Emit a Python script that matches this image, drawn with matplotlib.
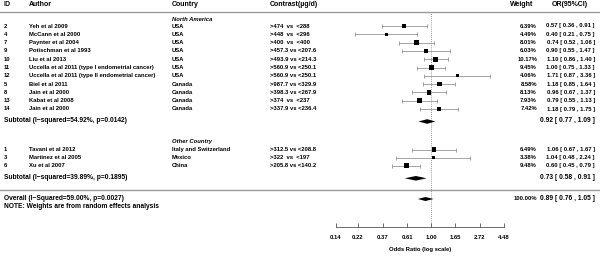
import numpy as np
import matplotlib
matplotlib.use("Agg")
import matplotlib.pyplot as plt

plt.rcParams['font.family'] = ['Liberation Sans', 'DejaVu Sans']
plt.rcParams['font.weight'] = 'bold'

# ---- data ----
na_id = ["2", "4", "7", "9", "10", "11", "12", "5", "8", "13", "14"]
na_author = ["Yeh et al 2009", "McCann et al 2000", "Paynter et al 2004",
             "Potischman et al 1993", "Liu et al 2013",
             "Uccella et al 2011 (type I endometrial cancer)",
             "Uccella et al 2011 (type II endometrial cancer)",
             "Biel et al 2011", "Jain et al 2000", "Kabat et al 2008", "Jain et al 2000"]
na_country = ["USA"] * 7 + ["Canada"] * 4
na_contrast = [">474  vs  <288", ">448  vs  <296", ">400  vs  <400", ">457.3 vs <207.6",
               ">493.9 vs <214.3", ">560.9 vs <250.1", ">560.9 vs <250.1",
               ">987.7 vs <329.9", ">398.3 vs <267.9", ">374  vs  <237", ">337.9 vs <236.4"]
na_weight = [6.39, 4.49, 8.01, 6.03, 10.17, 9.45, 4.06, 8.58, 8.13, 7.93, 7.42]
na_or = [0.57, 0.40, 0.74, 0.90, 1.10, 1.00, 1.71, 1.18, 0.96, 0.79, 1.18]
na_lo = [0.36, 0.21, 0.52, 0.55, 0.86, 0.75, 0.87, 0.85, 0.67, 0.55, 0.79]
na_hi = [0.91, 0.75, 1.06, 1.47, 1.40, 1.33, 3.36, 1.64, 1.37, 1.13, 1.75]
na_sub = (0.92, 0.77, 1.09)
na_sub_label = "Subtotal (I\u2212squared=54.92%, p=0.0142)"

oc_id = ["1", "3", "6"]
oc_author = ["Tavani et al 2012", "Martinez et al 2005", "Xu et al 2007"]
oc_country = ["Italy and Switzerland", "Mexico", "China"]
oc_contrast = [">312.5 vs <208.8", ">322  vs  <197", ">205.8 vs <140.2"]
oc_weight = [6.49, 3.38, 9.48]
oc_or = [1.06, 1.04, 0.60]
oc_lo = [0.67, 0.48, 0.45]
oc_hi = [1.67, 2.24, 0.79]
oc_sub = (0.73, 0.58, 0.91)
oc_sub_label = "Subtotal (I\u2212squared=39.89%, p=0.1895)"

overall = (0.89, 0.76, 1.05)
overall_label = "Overall (I\u2212Squared=59.00%, p=0.0027)"
note = "NOTE: Weights are from random effects analysis"

xticks = [0.14, 0.22, 0.37, 0.61, 1.00, 1.65, 2.72, 4.48]

# ---- layout (pixel rows) ----
W, H = 600, 263
y_na_head = 19.5
y_na = 26 + 8.3 * np.arange(len(na_id))
y_na_sub = 120
y_oc_head = 141.5
y_oc = 149.5 + 8.1 * np.arange(len(oc_id))
y_oc_sub = 177.5
y_sep = 190.3
y_overall = 199
y_note = 206.5

fs_head = 5.0
fs_row = 4.2
fs_sub = 4.8

fig = plt.figure(figsize=(6.0, 2.63), dpi=100)
ax = fig.add_axes([0, 0, 1, 1])
ax.set_xlim(0, W)
ax.set_ylim(H, 0)
ax.axis('off')

def txt(x, y, s, size=fs_row, ha='left', **kw):
    ax.text(x, y, s, fontsize=size, ha=ha, va='center', **kw)

# header
for x, s in [(4, "ID"), (29, "Author"), (172, "Country"), (270, "Contrast(\u00b5g/d)")]:
    txt(x, 4.5, s, fs_head)
txt(533, 4.5, "Weight", fs_head, ha='right')
txt(570, 4.5, "OR(95%CI)", fs_head, ha='center')
ax.plot([0, W], [12.3, 12.3], color='#9a9a9a', lw=1.0)
ax.plot([0, W], [y_sep, y_sep], color='#9a9a9a', lw=1.0)

def ci_str(o, l, h):
    return "%.2f [ %.2f , %.2f ]" % (o, l, h)

def study_rows(ys, ids, authors, countries, contrasts, weights, ors, los, his):
    for i in range(len(ids)):
        txt(4, ys[i], ids[i])
        txt(29, ys[i], authors[i])
        txt(172, ys[i], countries[i])
        txt(270, ys[i], contrasts[i])
        txt(537, ys[i], "%.2f%%" % weights[i], ha='right')
        txt(595, ys[i], ci_str(ors[i], los[i], his[i]), ha='right')

txt(172, y_na_head, "North America", style='italic')
study_rows(y_na, na_id, na_author, na_country, na_contrast, na_weight, na_or, na_lo, na_hi)
txt(4, y_na_sub, na_sub_label, fs_sub)
txt(595, y_na_sub, ci_str(*na_sub), fs_sub, ha='right')

txt(172, y_oc_head, "Other Country", style='italic')
study_rows(y_oc, oc_id, oc_author, oc_country, oc_contrast, oc_weight, oc_or, oc_lo, oc_hi)
txt(4, y_oc_sub, oc_sub_label, fs_sub)
txt(595, y_oc_sub, ci_str(*oc_sub), fs_sub, ha='right')

txt(4, y_overall, overall_label, fs_sub)
txt(4, y_note, note, fs_sub)
txt(537, y_overall, "100.00%", ha='right')
txt(595, y_overall, ci_str(*overall), fs_sub, ha='right')

# ---- forest panel ----
x0, x1 = 335.7, 504.0
ya, yt = 227.0, 12.3
fx = fig.add_axes([x0 / W, (H - ya) / H, (x1 - x0) / W, (ya - yt) / H])
fx.set_xscale('log')
fx.set_xlim(xticks[0], xticks[-1])
fx.set_ylim(ya, yt)
fx.patch.set_alpha(0)
for sp in ['top', 'left', 'right']:
    fx.spines[sp].set_visible(False)
fx.spines['bottom'].set_color('#555555')
fx.spines['bottom'].set_linewidth(0.6)
fx.set_yticks([])
fx.set_xticks(xticks)
fx.set_xticks([], minor=True)
fx.set_xticklabels(["%.2f" % t for t in xticks])
fx.tick_params(axis='x', direction='in', length=3, width=0.6, color='#555555',
               labelsize=fs_row, pad=6)
fx.set_xlabel("Odds Ratio (log scale)", fontsize=fs_row, fontweight='bold', labelpad=5)

fx.axvline(1.0, color='#777777', lw=0.6, ls=(0, (1, 1.5)), zorder=1)

ys_all = list(y_na) + list(y_oc)
or_all = na_or + oc_or
lo_all = na_lo + oc_lo
hi_all = na_hi + oc_hi
w_all = na_weight + oc_weight
fx.errorbar(or_all, ys_all,
            xerr=[np.array(or_all) - np.array(lo_all), np.array(hi_all) - np.array(or_all)],
            fmt='none', ecolor='#808080', elinewidth=0.5, capsize=1.1, capthick=0.5,
            clip_on=False, zorder=2)
fx.scatter(or_all, ys_all, marker='s', s=np.array(w_all) * 1.3, color='black',
           linewidths=0, zorder=3, clip_on=False)
fx.scatter(or_all, ys_all, marker='o', s=0.8, color='black', linewidths=0, zorder=4)

def diamond(y, o, l, h, half=2.3):
    fx.fill([l, o, h, o], [y, y - half, y, y + half], color='black', lw=0, zorder=3)

diamond(y_na_sub + 1.5, *na_sub)
diamond(y_oc_sub + 0.8, *oc_sub)
diamond(y_overall, *overall, half=2.0)

fig.savefig("out.png", dpi=100)
